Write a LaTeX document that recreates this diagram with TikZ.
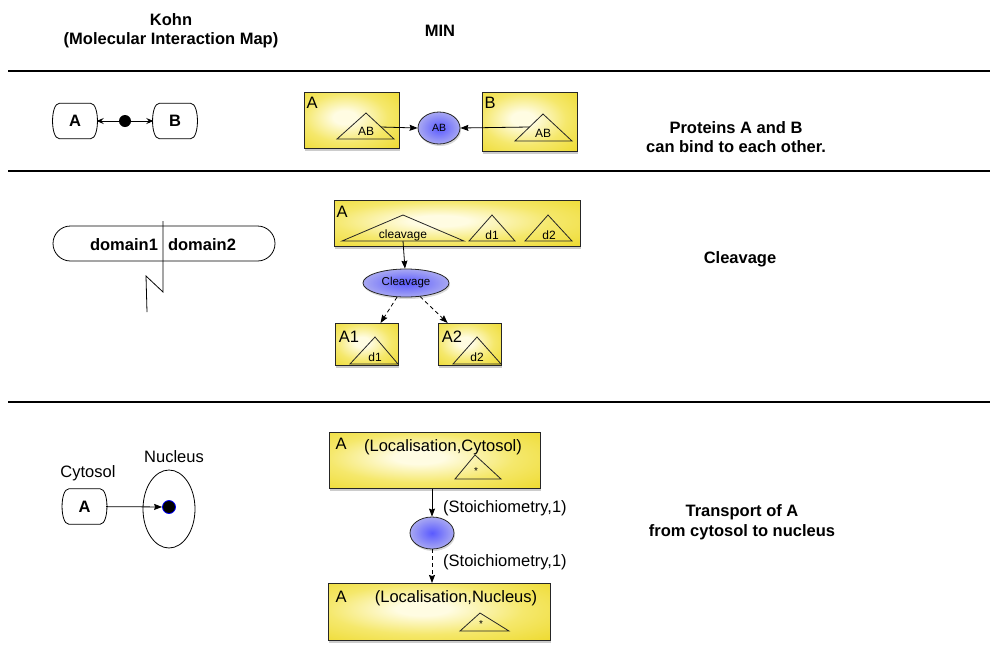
\documentclass[tikz,border=0pt]{standalone}
\usepackage{fontspec}
\setmainfont{Liberation Sans}
\usetikzlibrary{arrows.meta,shadows,shapes.geometric,shapes.misc}
\definecolor{yel}{HTML}{EDD92A}
\definecolor{yelm}{HTML}{F5E86C}
\definecolor{yelc}{HTML}{FFFCE2}
\definecolor{blin}{HTML}{5A5AFF}
\definecolor{blout}{HTML}{A8A8F2}
\pgfdeclareradialshading{yglow}{\pgfpoint{-4bp}{3bp}}{color(0bp)=(yelc); color(6bp)=(yelc); color(22bp)=(yelm); color(40bp)=(yel); color(100bp)=(yel)}
\newcommand\kohnbox[1]{%
  \draw[line width=0.8pt] ([xshift=6pt]#1.north west) -- ([xshift=-6pt]#1.north east)
    .. controls ([xshift=3pt]#1.north east) and ([xshift=3pt]#1.south east) .. ([xshift=-6pt]#1.south east)
    -- ([xshift=6pt]#1.south west)
    .. controls ([xshift=-3pt]#1.south west) and ([xshift=-3pt]#1.north west) .. cycle;}
\begin{document}
\begin{tikzpicture}[x=1pt,y=-1pt,
  txt/.style={font=\fontsize{16.5}{19}\selectfont, inner sep=0pt},
  txtb/.style={font=\fontsize{16.5}{19}\selectfont\bfseries, inner sep=0pt, align=center},
  small/.style={font=\fontsize{12}{14}\selectfont, inner sep=0pt},
  sep/.style={line width=2.5pt},
  ybox/.style={rectangle, draw=black!85, line width=0.8pt, shading=yglow, inner sep=0pt, anchor=north west, drop shadow={shadow xshift=1pt, shadow yshift=-3pt, opacity=0.4}},
  bell/.style={ellipse, draw=black!85, line width=0.8pt, shading=radial, inner color=blin, outer color=blout, inner sep=0pt, drop shadow={shadow xshift=1pt, shadow yshift=-2pt, opacity=0.3}},
  tri/.style={draw=black!85, line width=0.8pt},
  kbox/.style={minimum width=43pt, minimum height=35pt, inner sep=0pt, font=\fontsize{16.5}{19}\selectfont\bfseries},
  karrow/.style={line width=0.8pt, -{Stealth[length=7pt,width=6pt,inset=2.5pt]}},
  marrow/.style={line width=0.8pt, -{Stealth[length=8pt,width=6pt,inset=1pt]}},
  darrow/.style={marrow, dashed, dash pattern=on 4pt off 3pt}
]
\useasboundingbox (0,0) rectangle (992,665);

% headers
\node[txtb] (hk) at (171,31) {Kohn\\(Molecular Interaction Map)};
\node[txtb] (hm) at (440,31) {MIN};

% separators
\coordinate (s1a) at (8,71);   \coordinate (s1b) at (990,71);
\coordinate (s2a) at (8,171);  \coordinate (s2b) at (990,171);
\coordinate (s3a) at (8,402);  \coordinate (s3b) at (990,402);
\draw[sep] (s1a) -- (s1b);
\draw[sep] (s2a) -- (s2b);
\draw[sep] (s3a) -- (s3b);

% ===== Row 1 Kohn
\node[kbox] (kA) at (75,121) {A};
\node[kbox] (kB) at (175,121) {B};
\kohnbox{kA}
\kohnbox{kB}
\node[circle, fill=black, minimum size=12pt, inner sep=0pt] (kdot) at (125,121) {};
\draw[karrow] (kdot) -- (kA);
\draw[karrow] (kdot) -- (kB);

% ===== Row 1 MIN
\node[ybox, minimum width=95pt, minimum height=56pt] (mA) at (304,92) {};
\node[txt] (mAl) at (312,103) {A};
\draw[tri] (337,139) -- (366,113) -- (394,139) -- cycle;
\node[small] (mAt) at (366,131) {AB};
\coordinate (mAs) at (381,127);
\node[bell, minimum width=42pt, minimum height=32pt, font=\fontsize{10.5}{12}\selectfont] (eAB) at (439,128) {AB};
\node[ybox, minimum width=95pt, minimum height=59pt] (mB) at (482,92) {};
\node[txt] (mBl) at (490,103) {B};
\draw[tri] (515,141) -- (543,114) -- (572,141) -- cycle;
\node[small] (mBt) at (543,133) {AB};
\coordinate (mBs) at (529,127);
\draw[marrow] (mAs) -- (eAB.west);
\draw[marrow] (mBs) -- (eAB.east);
\node[txtb] (r1) at (736,137) {Proteins A and B\\can bind to each other.};

% ===== Row 2 Kohn
\node[draw, line width=0.8pt, rounded rectangle, minimum width=222pt, minimum height=35pt, inner sep=0pt] (cap) at (164,243.5) {};
\node[txtb] (d1k) at (124,245) {domain1};
\node[txtb] (d2k) at (202,245) {domain2};
\coordinate (z1) at (163,221); \coordinate (z2) at (163,292);
\coordinate (z3) at (146,276); \coordinate (z4) at (147,312);
\draw[line width=0.8pt] (z1) -- (z2) -- (z3) -- (z4);

% ===== Row 2 MIN
\node[ybox, minimum width=246pt, minimum height=46pt] (cA) at (334,200) {};
\node[txt] (cAl) at (342,212) {A};
\draw[tri] (342,241) -- (403,215) -- (464,241) -- cycle;
\node[small] (cAt) at (403,235) {cleavage};
\draw[tri] (469,241) -- (492,215) -- (515,241) -- cycle;
\node[small] (cd1) at (492,235) {d1};
\draw[tri] (525,241) -- (548,215) -- (572,241) -- cycle;
\node[small] (cd2) at (549,235) {d2};
\coordinate (cAs) at (403,241);
\node[bell, minimum width=86pt, minimum height=28pt, font=\fontsize{11.5}{13}\selectfont] (eCl) at (406,283) {Cleavage};
\draw[marrow] (cAs) -- (eCl);
\node[ybox, minimum width=63pt, minimum height=42pt] (cA1) at (335,323) {};
\node[txt] (cA1l) at (349,337) {A1};
\draw[tri] (350,364) -- (375,337) -- (398,364) -- cycle;
\node[small] (cA1t) at (375,357) {d1};
\node[ybox, minimum width=63pt, minimum height=42pt] (cA2) at (438,323) {};
\node[txt] (cA2l) at (452,337) {A2};
\draw[tri] (453,364) -- (477,337) -- (501,364) -- cycle;
\node[small] (cA2t) at (477,357) {d2};
\draw[darrow] (eCl) -- (cA1);
\draw[darrow] (eCl) -- (cA2);
\node[txtb] (r2) at (740,259) {Cleavage};

% ===== Row 3 Kohn
\node[txt] (cyt) at (88,473) {Cytosol};
\node[txt] (nuc) at (174,457) {Nucleus};
\node[kbox] (kA3) at (84.5,506.5) {A};
\kohnbox{kA3}
\node[ellipse, draw, line width=0.8pt, minimum width=52pt, minimum height=78pt, inner sep=0pt] (nucl) at (169,509) {};
\node[circle, fill=black, draw=blue, line width=0.8pt, minimum size=13pt, inner sep=0pt] (ndot) at (169,507) {};
\draw[marrow] (kA3) -- (ndot);

% ===== Row 3 MIN
\node[ybox, minimum width=211pt, minimum height=56pt] (tA) at (329,432) {};
\node[txt] (tAl) at (341,444) {A};
\node[txt] (tAc) at (443,447) {(Localisation,Cytosol)};
\draw[tri] (455,479) -- (475,455) -- (501,479) -- cycle;
\node[font=\fontsize{10}{12}\selectfont, inner sep=0pt] (tAs) at (476,471) {*};
\node[bell, minimum width=44pt, minimum height=32pt] (e3) at (432,533) {};
\node[ybox, minimum width=222pt, minimum height=57pt] (tB) at (328,583) {};
\node[txt] (tBl) at (341,597) {A};
\node[txt] (tBc) at (456,598) {(Localisation,Nucleus)};
\draw[tri] (460,631) -- (480,613) -- (509,631) -- cycle;
\node[font=\fontsize{10}{12}\selectfont, inner sep=0pt] (tBs) at (481,624) {*};
\draw[marrow] (e3 |- tA.south) -- (e3);
\draw[darrow] (e3) -- (e3 |- tB.north);
\node[txt, anchor=west] (st1) at (443,508) {(Stoichiometry,1)};
\node[txt, anchor=west] (st2) at (443,562) {(Stoichiometry,1)};
\node[txtb, font=\fontsize{16.5}{20.5}\selectfont\bfseries] (r3) at (742,522) {Transport of A\\from cytosol to nucleus};
\end{tikzpicture}
\end{document}
